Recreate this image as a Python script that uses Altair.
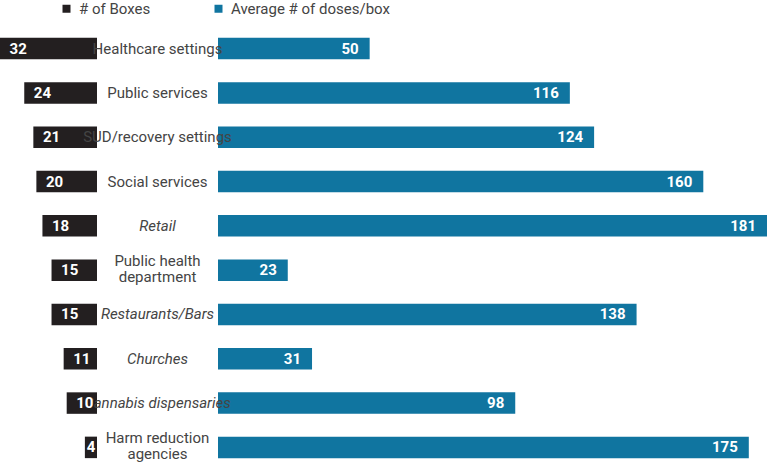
import altair as alt
import pandas as pd

# Rows, top to bottom
categories = [
    "Healthcare settings",
    "Public services",
    "SUD/recovery settings",
    "Social services",
    "Retail",
    "Public health\ndepartment",
    "Restaurants/Bars",
    "Churches",
    "Cannabis dispensaries",
    "Harm reduction\nagencies",
]
boxes = [32, 24, 21, 20, 18, 15, 15, 11, 10, 4]
doses = [50, 116, 124, 160, 181, 23, 138, 31, 98, 175]
italic = [False, False, False, False, True, False, True, True, True, False]

series = ["# of Boxes", "Average # of doses/box"]
colors = ["#231f20", "#1075a0"]

FONT = "Roboto"
TEXT_GRAY = "#444444"

df = pd.DataFrame({"category": categories, "boxes": boxes, "doses": doses, "italic": italic})

y_enc = alt.Y(
    "category:N",
    sort=categories,
    axis=None,
    scale=alt.Scale(paddingInner=0.515, paddingOuter=0.11),
)

color_scale = alt.Scale(domain=series, range=colors)
legend = alt.Legend(
    title=None,
    orient="none",
    legendX=59,
    legendY=-32,
    direction="horizontal",
    symbolType="square",
    symbolSize=64,
    symbolStrokeWidth=0,
    labelFont=FONT,
    labelFontSize=15,
    labelColor=TEXT_GRAY,
    labelOffset=5,
    labelLimit=300,
    columnPadding=60,
)

# left panel: number of boxes, growing leftwards
left_x = alt.Scale(domain=[0, 32], range=[97, 0])
# right panel: average doses per box
right_x = alt.Scale(domain=[0, 181], range=[218, 767])

base = alt.Chart(df)

left_bars = base.transform_calculate(series=f"'{series[0]}'").mark_bar().encode(
    x=alt.X("boxes:Q", scale=left_x, axis=None),
    y=y_enc,
    color=alt.Color("series:N", scale=color_scale, legend=legend),
)

right_bars = base.transform_calculate(series=f"'{series[1]}'").mark_bar().encode(
    x=alt.X("doses:Q", scale=right_x, axis=None),
    y=y_enc,
    color=alt.Color("series:N", scale=color_scale, legend=legend),
)

label_props = dict(
    align="center",
    baseline="middle",
    lineBreak="\n",
    font=FONT,
    fontSize=15,
    lineHeight=16,
    color=TEXT_GRAY,
)

one_line = "indexof(datum.category, '\\n') < 0"
two_lines = "indexof(datum.category, '\\n') >= 0"

labels_plain = base.transform_filter(f"!datum.italic && {one_line}").mark_text(
    **label_props
).encode(x=alt.value(157.5), y=y_enc, text="category:N")

labels_wrapped = base.transform_filter(two_lines).mark_text(dy=-9, **label_props).encode(
    x=alt.value(157.5), y=y_enc, text="category:N"
)

labels_italic = base.transform_filter("datum.italic").mark_text(
    fontStyle="italic", **label_props
).encode(x=alt.value(157.5), y=y_enc, text="category:N")

value_props = dict(baseline="middle", font=FONT, fontSize=15, fontWeight="bold", color="white")

left_values = base.transform_calculate(
    pos="datum.boxes >= 8 ? datum.boxes - 6 : datum.boxes / 2"
).mark_text(align="center", **value_props).encode(
    x=alt.X("pos:Q", scale=left_x, axis=None),
    y=y_enc,
    text="boxes:Q",
)

right_values = base.mark_text(align="right", dx=-11, **value_props).encode(
    x=alt.X("doses:Q", scale=right_x, axis=None),
    y=y_enc,
    text="doses:Q",
)

chart = (
    alt.layer(
        left_bars, right_bars, labels_plain, labels_wrapped, labels_italic, left_values, right_values
    )
    .resolve_scale(x="independent")
    .properties(
        width=767,
        height=430,
        padding={"top": 33, "left": 0, "right": 0, "bottom": 0},
        autosize=alt.AutoSizeParams(type="none"),
        background="white",
    )
    .configure_view(stroke=None)
)

chart.save("out.html", embed_options={"renderer": "svg", "actions": False})
